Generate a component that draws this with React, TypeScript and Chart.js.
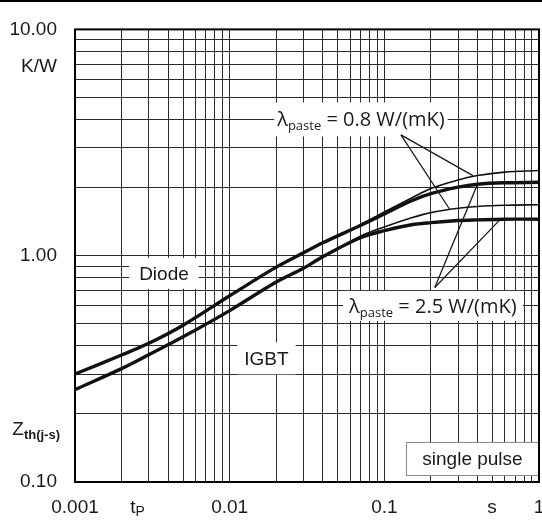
import React, { useEffect, useRef } from 'react';
import { Chart, registerables } from 'chart.js';

Chart.register(...registerables);

// ---- data ----
const timeS = [0.001, 0.002, 0.003, 0.005, 0.01, 0.02, 0.03, 0.04, 0.07, 0.1, 0.15, 0.2, 0.3, 0.4, 0.6, 1];
const diodeThick25 = [0.300, 0.364, 0.410, 0.493, 0.665, 0.89, 1.03, 1.14, 1.36, 1.53, 1.75, 1.88, 2.01, 2.07, 2.10, 2.11];
const diodeThin08 = [0.300, 0.364, 0.410, 0.493, 0.665, 0.89, 1.03, 1.14, 1.37, 1.56, 1.80, 1.98, 2.16, 2.26, 2.34, 2.38];
const igbtThick25 = [0.256, 0.317, 0.365, 0.438, 0.572, 0.765, 0.88, 0.99, 1.20, 1.29, 1.37, 1.40, 1.43, 1.44, 1.45, 1.45];
const igbtThin08 = [0.256, 0.317, 0.365, 0.438, 0.572, 0.765, 0.88, 0.99, 1.22, 1.34, 1.47, 1.55, 1.62, 1.65, 1.67, 1.68];

const xGrid = [0.001, 0.002, 0.003, 0.004, 0.005, 0.006, 0.007, 0.008, 0.009,
  0.01, 0.02, 0.03, 0.04, 0.05, 0.06, 0.07, 0.08, 0.09,
  0.1, 0.2, 0.3, 0.4, 0.5, 0.6, 0.7, 0.8, 0.9, 1];
const yGrid = [0.1, 0.2, 0.3, 0.4, 0.5, 0.6, 0.7, 0.8, 0.9,
  1, 2, 3, 4, 5, 6, 7, 8, 9, 10];
const xMajor = [0.001, 0.01, 0.1, 1];
const xMajorLabels = ['0.001', '0.01', '0.1', '1'];
const yMajor = [0.1, 1, 10];
const yMajorLabels = ['0.10', '1.00', '10.00'];

const ARIAL = "'Liberation Sans', Arial, sans-serif";
const CALIBRI = "'Open Sans', 'Noto Sans', sans-serif";
const INK = '#1a1a1a';

function labelFor(value: number, majors: number[], labels: string[]) {
  const i = majors.findIndex((m) => Math.abs(Math.log10(value) - Math.log10(m)) < 1e-6);
  return i >= 0 ? labels[i] : '';
}

const annotPlugin = {
  id: 'annot',
  afterDatasetsDraw(chart: any) {
    const ctx: CanvasRenderingContext2D = chart.ctx;
    const xs = chart.scales.x;
    const ys = chart.scales.y;
    const ca = chart.chartArea;
    const px = (t: number) => xs.getPixelForValue(t);
    const py = (v: number) => ys.getPixelForValue(v);
    ctx.save();

    const simpleBox = (text: string, t: number, v: number, padX: number, h: number) => {
      ctx.font = `19px ${ARIAL}`;
      const w = ctx.measureText(text).width + 2 * padX;
      const cx = px(t), cy = py(v);
      ctx.fillStyle = '#fff';
      ctx.fillRect(cx - w / 2, cy - h / 2, w, h);
      ctx.fillStyle = INK;
      ctx.textAlign = 'center';
      ctx.textBaseline = 'middle';
      ctx.fillText(text, cx, cy + 1);
    };
    simpleBox('Diode', 0.00376, 0.836, 10, 31);
    simpleBox('IGBT', 0.0173, 0.352, 7, 32);

    const lambdaBox = (value: string, t: number, v: number, padX: number, h: number) => {
      const big = `20px ${CALIBRI}`;
      const small = `13px ${CALIBRI}`;
      ctx.font = big;
      const wL = ctx.measureText('λ').width;
      const wR = ctx.measureText(` = ${value} W/(mK)`).width;
      ctx.font = small;
      const wS = ctx.measureText('paste').width;
      const w = wL + wS + wR;
      const cx = px(t), cy = py(v);
      ctx.fillStyle = '#fff';
      ctx.fillRect(cx - w / 2 - padX, cy - h / 2, w + 2 * padX, h);
      ctx.fillStyle = INK;
      ctx.textAlign = 'left';
      ctx.textBaseline = 'alphabetic';
      let x = cx - w / 2;
      const base = cy + 7;
      ctx.font = big;
      ctx.fillText('λ', x, base);
      x += wL;
      ctx.font = small;
      ctx.fillText('paste', x, base + 4);
      x += wS;
      ctx.font = big;
      ctx.fillText(` = ${value} W/(mK)`, x, base);
    };
    lambdaBox('0.8', 0.0706, 4.0, 3, 34);
    lambdaBox('2.5', 0.206, 0.60, 6, 30);

    ctx.strokeStyle = INK;
    ctx.lineWidth = 1.3;
    const pointer = (from: number[], tos: number[][]) => {
      tos.forEach((to) => {
        ctx.beginPath();
        ctx.moveTo(px(from[0]), py(from[1]));
        ctx.lineTo(px(to[0]), py(to[1]));
        ctx.stroke();
      });
    };
    pointer([0.128, 3.42], [[0.374, 2.26], [0.265, 1.60]]);
    pointer([0.212, 0.724], [[0.40, 2.07], [0.558, 1.44]]);

    {
      const l = px(0.138), r = px(1), tp = py(0.150), bt = py(0.107);
      ctx.fillStyle = '#fff';
      ctx.fillRect(l, tp, r - l, bt - tp);
      ctx.strokeStyle = '#8a8a8a';
      ctx.lineWidth = 1;
      ctx.strokeRect(Math.round(l) + 0.5, Math.round(tp) + 0.5, Math.round(r - l), Math.round(bt - tp));
      ctx.font = `19px ${ARIAL}`;
      ctx.fillStyle = INK;
      ctx.textAlign = 'center';
      ctx.textBaseline = 'middle';
      ctx.fillText('single pulse', (l + r) / 2, (tp + bt) / 2 + 1);
    }

    ctx.strokeStyle = '#000';
    ctx.lineWidth = 2;
    ctx.strokeRect(ca.left, ca.top, ca.right - ca.left, ca.bottom - ca.top);

    ctx.fillStyle = INK;
    ctx.textBaseline = 'middle';
    ctx.textAlign = 'right';
    ctx.font = `19px ${ARIAL}`;
    ctx.fillText('K/W', ca.left - 18, py(6.85));

    {
      ctx.textBaseline = 'alphabetic';
      ctx.textAlign = 'left';
      ctx.font = `19px ${ARIAL}`;
      const wz = ctx.measureText('Z').width;
      ctx.font = `bold 13px ${ARIAL}`;
      const ws = ctx.measureText('th(j-s)').width;
      const right = ca.left - 15;
      const x0 = right - wz - ws;
      const base = py(0.171) + 6;
      ctx.font = `19px ${ARIAL}`;
      ctx.fillText('Z', x0, base);
      ctx.font = `bold 13px ${ARIAL}`;
      ctx.fillText('th(j-s)', x0 + wz, base + 4);
    }

    {
      const base = ca.bottom + 31;
      ctx.font = `19px ${ARIAL}`;
      const wt = ctx.measureText('t').width;
      ctx.font = `14px ${ARIAL}`;
      const wp = ctx.measureText('P').width;
      const cx = px(0.00254);
      const x0 = cx - (wt + wp) / 2;
      ctx.font = `19px ${ARIAL}`;
      ctx.fillText('t', x0, base);
      ctx.font = `14px ${ARIAL}`;
      ctx.fillText('P', x0 + wt, base + 3);
      ctx.font = `19px ${ARIAL}`;
      ctx.textAlign = 'center';
      ctx.fillText('s', px(0.497), base);
    }
    ctx.restore();
  },
  afterDraw(chart: any) {
    const ctx: CanvasRenderingContext2D = chart.ctx;
    ctx.save();
    ctx.fillStyle = '#000';
    ctx.fillRect(0, 0, chart.width, 2);
    ctx.restore();
  },
};

function series(values: number[]) {
  return timeS.map((t, i) => ({ x: t, y: values[i] }));
}

export default function App() {
  const ref = useRef<HTMLCanvasElement>(null);
  useEffect(() => {
    document.body.style.margin = '0';
    const common = {
      borderColor: '#111',
      pointRadius: 0,
      fill: false,
      tension: 0.35,
    };
    const chart = new Chart(ref.current!, {
      type: 'line',
      data: {
        datasets: [
          { ...common, label: 'Diode 2.5', data: series(diodeThick25), borderWidth: 3.4 },
          { ...common, label: 'IGBT 2.5', data: series(igbtThick25), borderWidth: 3.4 },
          { ...common, label: 'Diode 0.8', data: series(diodeThin08), borderWidth: 1.6 },
          { ...common, label: 'IGBT 0.8', data: series(igbtThin08), borderWidth: 1.6 },
        ],
      },
      options: {
        responsive: false,
        animation: false,
        devicePixelRatio: 1,
        layout: { padding: { top: 19, right: 3, left: 0, bottom: 0 } },
        plugins: { legend: { display: false }, tooltip: { enabled: false } },
        scales: {
          x: {
            type: 'logarithmic',
            min: 0.001,
            max: 1,
            border: { display: false },
            grid: { color: '#2a2a2a', lineWidth: 1, drawTicks: false },
            ticks: {
              autoSkip: false,
              maxRotation: 0,
              minRotation: 0,
              padding: 14,
              color: INK,
              font: { family: ARIAL, size: 19 },
              callback: (v: any) => labelFor(Number(v), xMajor, xMajorLabels),
            },
            afterBuildTicks: (scale: any) => {
              scale.ticks = xGrid.map((value) => ({ value }));
            },
            afterFit: (scale: any) => {
              scale.height = 39;
              scale.paddingLeft = 0;
              scale.paddingRight = 0;
            },
          },
          y: {
            type: 'logarithmic',
            min: 0.1,
            max: 10,
            border: { display: false },
            grid: { color: '#2a2a2a', lineWidth: 1, drawTicks: false },
            ticks: {
              autoSkip: false,
              padding: 18,
              color: INK,
              font: { family: ARIAL, size: 19 },
              callback: (v: any) => labelFor(Number(v), yMajor, yMajorLabels),
            },
            afterBuildTicks: (scale: any) => {
              scale.ticks = yGrid.map((value) => ({ value }));
            },
            afterFit: (scale: any) => {
              scale.width = 75;
            },
          },
        },
      },
      plugins: [annotPlugin],
    });
    return () => chart.destroy();
  }, []);
  return (
    <div style={{ width: 542, height: 521 }}>
      <canvas ref={ref} width={542} height={521} style={{ display: 'block' }} />
    </div>
  );
}
